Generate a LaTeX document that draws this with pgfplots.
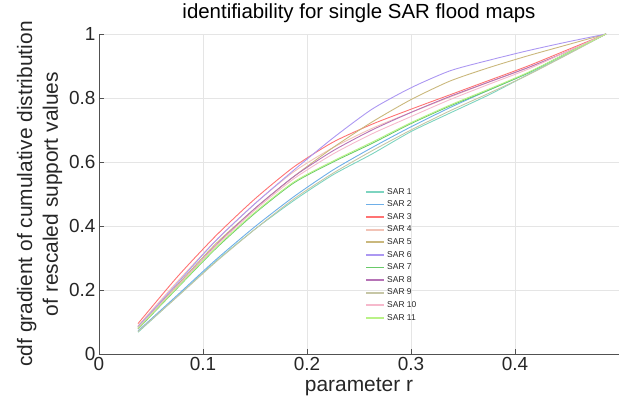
\documentclass[border=0pt]{standalone}
\usepackage{fontspec}
\setmainfont{Liberation Sans}
\usepackage{pgfplots}
\usepackage{pgfplotstable}
\pgfplotsset{compat=1.18}

\definecolor{sarA}{RGB}{125,212,192}
\definecolor{sarB}{RGB}{110,175,232}
\definecolor{sarC}{RGB}{255,115,115}
\definecolor{sarD}{RGB}{242,195,182}
\definecolor{sarE}{RGB}{202,184,125}
\definecolor{sarF}{RGB}{172,152,242}
\definecolor{sarG}{RGB}{105,202,105}
\definecolor{sarH}{RGB}{182,115,182}
\definecolor{sarI}{RGB}{198,198,165}
\definecolor{sarJ}{RGB}{246,185,204}
\definecolor{sarK}{RGB}{185,242,135}
\definecolor{axgray}{RGB}{38,38,38}

% r  SAR1 ... SAR11
\pgfplotstableread{
r      s1    s2    s3    s4    s5    s6    s7    s8    s9    s10   s11
0.0375 0.068 0.072 0.095 0.088 0.085 0.085 0.078 0.080 0.070 0.082 0.080
0.075  0.179 0.183 0.240 0.225 0.215 0.220 0.205 0.210 0.178 0.210 0.207
0.1125 0.290 0.295 0.370 0.355 0.345 0.355 0.330 0.340 0.288 0.338 0.333
0.15   0.390 0.398 0.485 0.470 0.455 0.470 0.440 0.455 0.390 0.450 0.443
0.1875 0.480 0.492 0.585 0.570 0.555 0.575 0.535 0.555 0.485 0.548 0.538
0.225  0.560 0.575 0.662 0.645 0.645 0.675 0.600 0.635 0.565 0.625 0.603
0.2625 0.625 0.645 0.718 0.705 0.725 0.765 0.658 0.700 0.635 0.688 0.662
0.3    0.695 0.710 0.765 0.755 0.795 0.832 0.720 0.755 0.700 0.742 0.723
0.3375 0.753 0.770 0.810 0.803 0.853 0.885 0.775 0.805 0.760 0.795 0.778
0.375  0.810 0.825 0.855 0.850 0.895 0.918 0.825 0.850 0.815 0.843 0.828
0.4125 0.873 0.878 0.900 0.895 0.932 0.948 0.878 0.895 0.872 0.890 0.880
0.45   0.936 0.940 0.950 0.945 0.966 0.975 0.940 0.945 0.935 0.945 0.940
0.4875 1.000 1.000 1.000 1.000 1.000 1.000 1.000 1.000 1.000 1.000 1.000
}\sardata

\begin{document}
\begin{tikzpicture}
\begin{axis}[
  scale only axis,
  width=520bp, height=320bp,
  xmin=0, xmax=0.5, ymin=0, ymax=1,
  xtick={0,0.1,0.2,0.3,0.4},
  ytick={0,0.2,0.4,0.6,0.8,1},
  axis x line*=bottom, axis y line*=left,
  axis line style={axgray!80, line width=0.8bp},
  tick align=inside, major tick length=5bp,
  tick style={axgray!80, line width=0.8bp},
  grid=major, major grid style={black!10, line width=0.8bp},
  /pgf/number format/assume math mode=true,
  /pgf/number format/fixed,
  ticklabel style={font=\fontsize{19}{22}\selectfont, text=axgray},
  xlabel={parameter r},
  ylabel={cdf gradient of cumulative distribution\\of rescaled support values},
  label style={font=\fontsize{21}{26}\selectfont, text=axgray},
  ylabel style={align=center},
  title={identifiability for single SAR flood maps},
  title style={font=\fontsize{20.5}{24}\selectfont, text=black, yshift=1.5bp},
  legend style={at={(rel axis cs:0.512,0.525)}, anchor=north west, draw=none, fill=none,
    font=\fontsize{8.5}{9}\selectfont, text=axgray, row sep=1.2bp, inner sep=0pt},
  legend cell align=left,
  legend image code/.code={\draw[#1, line width=1.8bp] (0bp,0bp) -- (18bp,0bp);},
  every axis plot/.append style={line width=0.9bp, smooth, tension=0.4},
]
\addplot[sarA] table[x=r,y=s1] {\sardata}; \addlegendentry{SAR 1}
\addplot[sarB] table[x=r,y=s2] {\sardata}; \addlegendentry{SAR 2}
\addplot[sarC] table[x=r,y=s3] {\sardata}; \addlegendentry{SAR 3}
\addplot[sarD] table[x=r,y=s4] {\sardata}; \addlegendentry{SAR 4}
\addplot[sarE] table[x=r,y=s5] {\sardata}; \addlegendentry{SAR 5}
\addplot[sarF] table[x=r,y=s6] {\sardata}; \addlegendentry{SAR 6}
\addplot[sarG] table[x=r,y=s7] {\sardata}; \addlegendentry{SAR 7}
\addplot[sarH] table[x=r,y=s8] {\sardata}; \addlegendentry{SAR 8}
\addplot[sarI] table[x=r,y=s9] {\sardata}; \addlegendentry{SAR 9}
\addplot[sarJ] table[x=r,y=s10] {\sardata}; \addlegendentry{SAR 10}
\addplot[sarK] table[x=r,y=s11] {\sardata}; \addlegendentry{SAR 11}
\coordinate (bl) at (rel axis cs:0,0);
\coordinate (tr) at (rel axis cs:1,1);
\end{axis}
\path (bl) ++(-99bp,-53bp) coordinate (p1);
\path (tr) ++(4bp,34bp) coordinate (p2);
\pgfresetboundingbox
\path (p1) rectangle (p2);
\end{tikzpicture}
\end{document}
